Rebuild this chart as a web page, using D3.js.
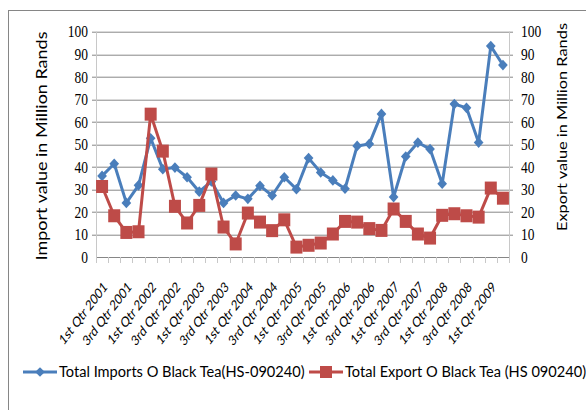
<!DOCTYPE html>
<html>
<head>
<meta charset="utf-8">
<script src="https://cdn.jsdelivr.net/npm/d3@7"></script>
<style>
  body { margin: 0; background: #fff; }
  svg { display: block; }
  .grid line { stroke: #878787; stroke-width: 1; }
  .tick-num { font-family: "Liberation Serif", serif; font-size: 13.5px; fill: #000; }
  .cat { font-family: Lato, "Open Sans", sans-serif; font-size: 11px; fill: #000; }
  .title { font-family: Lato, "Open Sans", sans-serif; font-size: 15px; fill: #000; }
  .legend text { font-family: Lato, "Open Sans", sans-serif; font-size: 14.6px; fill: #000; }
</style>
</head>
<body>
<div id="chart"></div>
<script>
// quarters 1st Qtr 2001 .. 2nd Qtr 2009
var years = [2001, 2002, 2003, 2004, 2005, 2006, 2007, 2008, 2009];
var qtrNames = ["1st", "2nd", "3rd", "4th"];
var quarters = [];
years.forEach(function (y) {
    qtrNames.forEach(function (q) {
        if (quarters.length < 34) quarters.push(q + " Qtr " + y);
    });
});

var imports = [36, 41.4, 24, 31.8, 52.7, 39, 39.7, 35.4, 29, 33.5,
               24, 27.3, 25.8, 31.6, 27.3, 35.4, 30.1, 43.9, 37.5, 34,
               30.3, 49.3, 50.2, 63.5, 26.6, 44.6, 50.8, 47.9, 32.5, 67.9,
               66.2, 50.8, 93.6, 85.2];

var exports = [31.3, 18.3, 10.9, 11.2, 63.4, 47, 22.5, 15.1, 22.9, 36.8,
               13.3, 5.8, 19.5, 15.5, 11.7, 16.5, 4.4, 5.2, 6.2, 10.2,
               15.8, 15.5, 12.6, 11.8, 21.3, 15.8, 10.2, 8.4, 18.5, 19.2,
               18.3, 17.7, 30.6, 26.1];

var yTicks = [0, 10, 20, 30, 40, 50, 60, 70, 80, 90, 100];

var W = 586, H = 410;
var margin = { top: 31.7, right: 77, bottom: 153, left: 96 };
var width = W - margin.left - margin.right;
var height = H - margin.top - margin.bottom;

// the original picture is a bit stretched vertically
var stretch = 1.22;

var svg = d3.select("#chart").append("svg")
    .attr("width", W)
    .attr("height", H);

// outer chart border
svg.append("rect")
    .attr("x", 8.5).attr("y", 10.5)
    .attr("width", W + 10).attr("height", H + 10)
    .attr("fill", "none")
    .attr("stroke", "#868686");

var g = svg.append("g")
    .attr("transform", "translate(" + margin.left + "," + margin.top + ")");

var x = d3.scaleBand()
    .domain(quarters)
    .range([0, width]);

var yL = d3.scaleLinear().domain([0, 100]).range([height, 0]);
var yR = d3.scaleLinear().domain([0, 100]).range([height, 0]);

// gridlines
g.append("g").attr("class", "grid")
    .selectAll("line")
    .data(yTicks.filter(function (d) { return d > 0; }))
    .enter().append("line")
    .attr("x1", -4).attr("x2", width + 4)
    .attr("y1", function (d) { return Math.round(yL(d)) + 0.5; })
    .attr("y2", function (d) { return Math.round(yL(d)) + 0.5; });

// left axis line
g.append("line")
    .attr("x1", 0.5).attr("x2", 0.5)
    .attr("y1", 0).attr("y2", height)
    .attr("stroke", "#c8c8c8");
// right axis line
g.append("line")
    .attr("x1", width + 0.5).attr("x2", width + 0.5)
    .attr("y1", 0).attr("y2", height)
    .attr("stroke", "#c8c8c8");

// tick labels
g.append("g").selectAll("text")
    .data(yTicks).enter().append("text")
    .attr("class", "tick-num")
    .attr("transform", function (d) { return "translate(-8," + yL(d) + ") scale(1," + stretch + ")"; })
    .attr("dy", "0.35em")
    .attr("text-anchor", "end")
    .text(function (d) { return d; });

g.append("g").selectAll("text")
    .data(yTicks).enter().append("text")
    .attr("class", "tick-num")
    .attr("transform", function (d) { return "translate(" + (width + 12) + "," + yR(d) + ") scale(1," + stretch + ")"; })
    .attr("dy", "0.35em")
    .text(function (d) { return d; });

// x axis
var xAxis = g.append("g")
    .attr("transform", "translate(0," + height + ")");
xAxis.append("line")
    .attr("x1", 0).attr("x2", width)
    .attr("y1", 0.5).attr("y2", 0.5)
    .attr("stroke", "#868686");
xAxis.selectAll(".xt")
    .data(quarters.concat(["end"]))
    .enter().append("line")
    .attr("x1", function (d, i) { return Math.round(i * x.step()) + 0.5; })
    .attr("x2", function (d, i) { return Math.round(i * x.step()) + 0.5; })
    .attr("y1", 0).attr("y2", 6)
    .attr("stroke", "#c8c8c8");

xAxis.selectAll(".cat")
    .data(quarters.filter(function (d, i) { return i % 2 === 0; }))
    .enter().append("text")
    .attr("class", "cat")
    .attr("text-anchor", "end")
    .attr("transform", function (d) {
        return "translate(" + (x(d) + x.bandwidth() / 2 + 6) + ",31) scale(1,1.3) rotate(-45)";
    })
    .text(function (d) { return d; });

// axis titles
svg.append("text")
    .attr("class", "title")
    .attr("transform", "translate(47,146) scale(1,1.2) rotate(-90)")
    .attr("text-anchor", "middle")
    .text("Import value in Million Rands");

svg.append("text")
    .attr("class", "title")
    .style("font-size", "14px")
    .attr("transform", "translate(567,127) scale(1,1.17) rotate(-90)")
    .attr("text-anchor", "middle")
    .text("Export value in Million Rands");

var blue = "#4a7ebb", red = "#be4b48";

var cx = function (d, i) { return x(quarters[i]) + x.bandwidth() / 2; };

var lineL = d3.line().x(cx).y(function (d) { return yL(d); });
var lineR = d3.line().x(cx).y(function (d) { return yR(d); });

g.append("path").datum(imports)
    .attr("d", lineL)
    .attr("fill", "none").attr("stroke", blue).attr("stroke-width", 3)
    .attr("stroke-linejoin", "round");

g.selectAll(".dia").data(imports).enter().append("path")
    .attr("d", d3.symbol().type(d3.symbolDiamond2).size(60))
    .attr("transform", function (d, i) { return "translate(" + cx(d, i) + "," + yL(d) + ") scale(1,1.1)"; })
    .attr("fill", blue);

g.append("path").datum(exports)
    .attr("d", lineR)
    .attr("fill", "none").attr("stroke", red).attr("stroke-width", 3)
    .attr("stroke-linejoin", "round");

g.selectAll(".sq").data(exports).enter().append("rect")
    .attr("x", function (d, i) { return cx(d, i) - 6; })
    .attr("y", function (d) { return yR(d) - 6.5; })
    .attr("width", 12).attr("height", 13)
    .attr("fill", red);

// legend
var legend = svg.append("g").attr("class", "legend")
    .attr("transform", "translate(0,372)");
var items = [
    { name: "Total Imports O Black Tea(HS-090240)", color: blue, type: "d", x: 23 },
    { name: "Total Export O Black Tea (HS 090240)", color: red, type: "s", x: 309 }
];
items.forEach(function (it) {
    var lg = legend.append("g").attr("transform", "translate(" + it.x + ",0)");
    lg.append("line").attr("x1", 0).attr("x2", 34).attr("y1", 0).attr("y2", 0)
        .attr("stroke", it.color).attr("stroke-width", 3);
    if (it.type === "d") {
        lg.append("path")
            .attr("d", d3.symbol().type(d3.symbolDiamond2).size(60))
            .attr("transform", "translate(17,0)")
            .attr("fill", it.color);
    } else {
        lg.append("rect").attr("x", 11).attr("y", -6).attr("width", 12).attr("height", 12)
            .attr("fill", it.color);
    }
    lg.append("text").attr("x", 36).attr("y", 0).attr("dy", "0.35em").text(it.name);
});
</script>
</body>
</html>
